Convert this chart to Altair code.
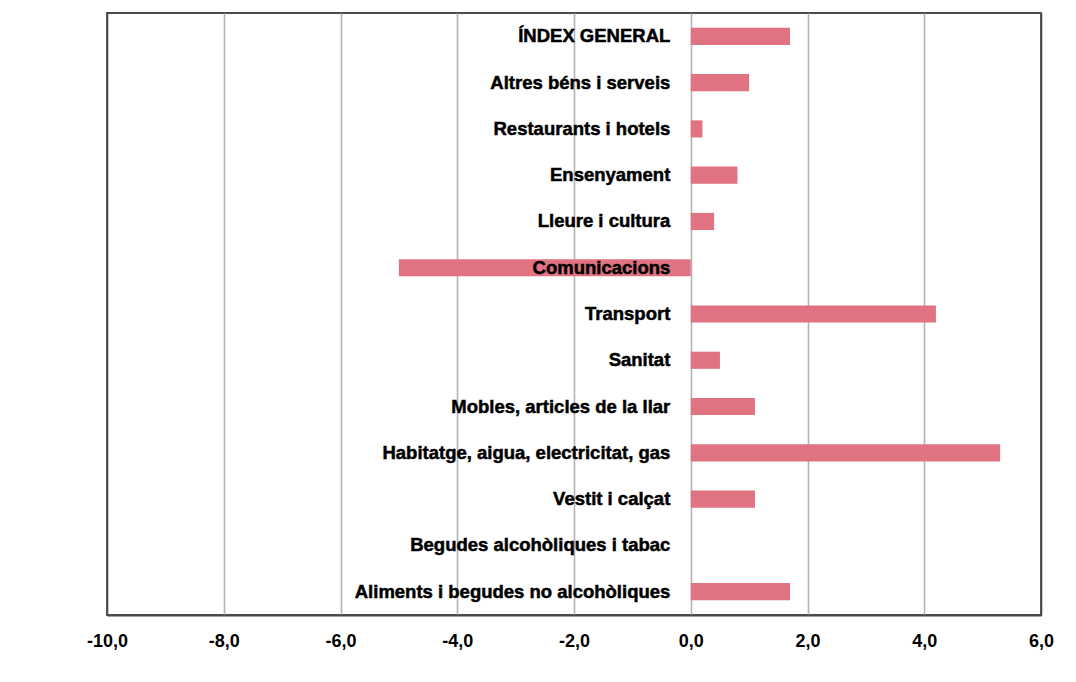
import altair as alt
import pandas as pd

categories = [
    "ÍNDEX GENERAL",
    "Altres béns i serveis",
    "Restaurants i hotels",
    "Ensenyament",
    "Lleure i cultura",
    "Comunicacions",
    "Transport",
    "Sanitat",
    "Mobles, articles de la llar",
    "Habitatge, aigua, electricitat, gas",
    "Vestit i calçat",
    "Begudes alcohòliques i tabac",
    "Aliments i begudes no alcohòliques",
]
values = [1.7, 1.0, 0.2, 0.8, 0.4, -5.0, 4.2, 0.5, 1.1, 5.3, 1.1, 0.0, 1.7]
x_ticks = [-10, -8, -6, -4, -2, 0, 2, 4, 6]
label_anchor = -0.35

df = pd.DataFrame({"cat": categories, "val": values})

FONT = "Liberation Sans"

xscale = alt.Scale(domain=[-10, 6], nice=False, zero=False)
yscale = alt.Scale(domain=categories, paddingInner=0.63, paddingOuter=0.32)

bars = alt.Chart(df).mark_bar(
    color="#E07282"
).encode(
    x=alt.X("val:Q", scale=xscale,
            axis=alt.Axis(values=x_ticks, title=None, grid=True,
                          gridColor={"condition": {"test": "datum.value <= -10 || datum.value >= 6",
                                                   "value": "#4a4a4a"},
                                     "value": "#b3b3b3"},
                          gridWidth=1.6, ticks=False, domain=True, domainColor="#4a4a4a",
                          domainWidth=1.8, labelFlush=False,
                          labelExpr="replace(replace(format(datum.value, '.1f'), '.', ','), '\u2212', '-')",
                          labelFont=FONT, labelFontWeight="bold", labelFontSize=18,
                          labelColor="#000000", labelPadding=17)),
    x2=alt.datum(0),
    y=alt.Y("cat:N", scale=yscale, sort=categories, axis=None),
)

labels = alt.Chart(df).mark_text(
    align="right", baseline="middle", font=FONT, fontWeight="bold",
    fontSize=18.5, color="#000000", stroke="#000000", strokeWidth=0.5
).encode(
    x=alt.datum(label_anchor, scale=xscale),
    y=alt.Y("cat:N", scale=yscale, sort=categories, axis=None),
    text="cat:N",
)

chart = alt.layer(bars, labels).properties(
    width=934, height=602,
    padding={"left": 99, "top": 5, "right": 20, "bottom": 50},
    autosize=alt.AutoSizeParams(type="none"),
    background="white",
).configure_view(
    stroke="#4a4a4a", strokeWidth=1.8
)

chart.save("out.html", embed_options={"renderer": "svg", "actions": False})
